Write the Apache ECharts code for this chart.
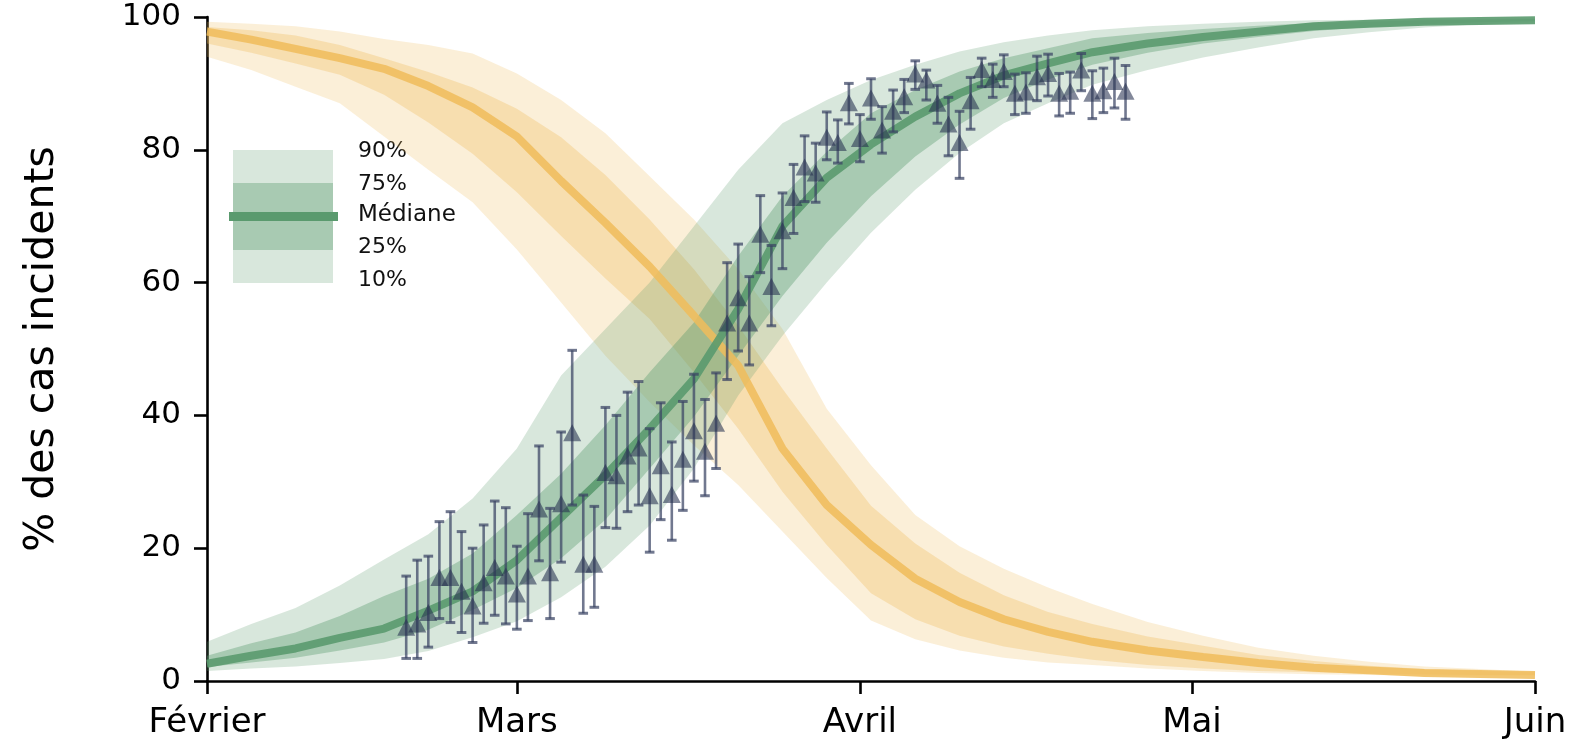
<!DOCTYPE html>
<html><head><meta charset="utf-8">
<script src="https://cdn.jsdelivr.net/npm/echarts@6/dist/echarts.min.js"></script>
<style>html,body{margin:0;padding:0;background:#fff}#c{width:1574px;height:740px}</style>
</head><body><div id="c"></div>
<script>
// ---- x axis: days since 1 February ----
const monthTicks = [0, 28, 59, 89, 120];
const monthNames = ['Février', 'Mars', 'Avril', 'Mai', 'Juin'];
const yTicks = [0, 20, 40, 60, 80, 100];

// ---- band sample days ----
const bandDays = [0,4,8,12,16,20,24,28,32,36,40,44,48,52,56,60,64,68,72,76,80,85,90,95,100,105,110,115,120];

// ---- green (increasing) quantiles ----
const gP10 = [1.5,1.9,2.2,2.7,3.3,4.5,6.6,9.0,12.6,17.2,23.4,32.0,43.0,52.0,60.0,67.5,74.0,79.5,84.0,87.0,89.8,92.0,93.9,95.4,96.8,97.7,98.4,98.9,99.2];
const gP25 = [2.1,2.8,3.5,4.6,5.8,7.7,10.7,14.0,18.5,24.3,32.0,39.8,49.0,58.0,66.0,73.0,79.0,83.8,87.8,90.6,92.8,94.6,96.0,97.0,97.9,98.5,98.9,99.2,99.4];
const gMed = [2.6,3.8,4.9,6.5,7.9,10.6,13.5,18.2,24.6,31.0,38.0,45.5,56.0,68.5,75.8,80.8,85.0,88.5,91.2,93.0,94.7,96.0,97.0,97.8,98.6,99.0,99.3,99.4,99.5];
const gP75 = [3.8,5.7,7.3,9.8,12.8,15.4,19.2,25.0,31.2,38.5,46.5,54.0,64.0,73.0,79.7,85.5,89.0,91.8,93.8,95.3,96.8,97.6,98.2,98.7,99.1,99.3,99.5,99.6,99.7];
const gP90 = [5.9,8.6,11.0,14.4,18.3,22.1,27.5,35.0,46.0,53.0,60.0,68.5,77.0,84.0,87.5,90.5,92.8,94.8,96.2,97.2,98.0,98.6,99.0,99.3,99.5,99.6,99.7,99.7,99.8];

// ---- orange (decreasing) quantiles ----
const oP10 = [94.0,92.0,89.5,87.0,82.0,77.0,72.1,65.0,57.0,49.0,42.0,35.5,29.5,22.5,15.5,9.1,6.3,4.6,3.5,2.8,2.4,1.9,1.5,1.2,1.0,0.9,0.8,0.8,0.8];
const oP25 = [96.0,94.6,93.0,91.3,88.3,84.1,79.4,73.6,67.0,60.6,54.5,46.5,38.0,28.5,20.5,13.2,9.3,6.8,5.2,4.1,3.2,2.4,1.9,1.5,1.3,1.1,1.0,0.9,0.9];
const oMed = [97.8,96.6,95.2,93.8,92.2,89.6,86.4,82.0,75.3,69.0,62.4,55.0,47.5,35.0,26.5,20.5,15.4,11.9,9.3,7.4,5.9,4.6,3.6,2.7,2.0,1.6,1.2,1.05,0.9];
const oP75 = [98.5,98.0,97.2,95.8,93.8,91.7,89.4,86.2,81.9,76.2,69.5,62.0,53.5,44.0,35.0,26.4,20.7,16.3,12.9,10.4,8.6,6.7,5.3,3.9,3.0,2.3,1.8,1.5,1.3];
const oP90 = [99.3,99.0,98.6,97.8,96.7,95.8,94.5,91.5,87.5,82.5,76.0,69.5,62.0,53.0,41.0,32.5,25.0,20.3,16.9,14.1,11.6,8.9,6.8,5.0,3.8,2.9,2.2,1.8,1.4];

// ---- observations (triangles with error bars) ----
const obsDays = [18,19,20,21,22,23,24,25,26,27,28,29,30,31,32,33,34,35,36,37,38,39,40,41,42,43,44,45,46,47,48,49,50,51,52,53,54,55,56,57,58,59,60,61,62,63,64,65,66,67,68,69,70,71,72,73,74,75,76,77,78,79,80,81,82,83];
const obsVal  = [8.1,8.6,10.3,15.6,15.6,13.5,11.3,14.8,17.1,15.8,13.1,15.8,25.9,16.3,26.7,37.4,17.6,17.6,31.4,30.9,33.9,35.1,27.9,32.4,28.1,33.4,37.7,34.6,38.8,53.9,57.7,53.9,67.3,59.4,67.8,72.8,77.4,76.5,81.9,81.1,87.1,81.7,87.8,83.0,85.8,88.0,91.4,90.5,87.0,83.9,81.1,87.4,92.1,90.6,91.8,88.5,88.7,91.0,91.5,88.5,88.8,92.0,88.5,88.9,90.3,88.8];
const obsHigh = [15.8,18.2,18.8,24.0,25.5,22.5,20.0,23.5,27.1,26.1,20.3,25.2,35.4,26.0,37.5,49.8,28.0,26.3,41.2,40.0,43.5,45.1,38.0,41.9,36.0,42.1,46.2,42.4,46.4,63.0,65.8,60.9,73.1,65.6,73.5,77.8,82.1,81.0,85.7,84.5,90.0,85.3,90.7,86.5,89.0,90.6,93.4,92.0,89.7,87.9,85.8,90.9,93.8,92.9,94.3,91.4,91.6,94.1,94.4,91.5,91.7,94.5,91.9,92.3,93.8,92.7];
const obsLow  = [3.4,3.4,5.1,9.4,8.8,7.3,5.8,8.7,9.9,8.6,7.8,9.1,18.1,9.4,17.9,26.5,10.2,11.1,23.1,23.0,25.5,26.5,19.4,24.3,21.2,25.7,30.1,27.9,32.0,45.4,49.7,47.6,61.5,53.5,62.1,67.4,72.2,72.1,78.5,78.0,83.9,78.2,84.6,79.5,82.7,85.6,89.1,87.5,84.0,79.1,75.7,83.1,89.5,87.9,89.5,85.3,85.5,87.4,88.1,85.1,85.5,88.9,84.7,85.6,86.3,84.6];

// ---- styles ----
const GREEN = '#5a9a6e';
const ORANGE = '#f0bc5a';
const FONT = 'DejaVu Sans';

function pairs(xs, ys) { return xs.map((x, i) => [x, ys[i]]); }

// band drawn as one polygon through the axis scales (api.coord)
function band(name, lo, hi, color) {
  const data = bandDays.map((d, i) => [d, lo[i], hi[i]]);
  return {
    type: 'custom', name: name, data: data, z: 1, silent: true,
    encode: { x: 0, y: [1, 2] },
    renderItem: function (params, api) {
      if (params.dataIndex !== 0) return null;
      const upper = data.map(p => api.coord([p[0], p[2]]));
      const lower = data.map(p => api.coord([p[0], p[1]])).reverse();
      return { type: 'polygon', shape: { points: upper.concat(lower) }, style: { fill: color } };
    }
  };
}

const errData = obsDays.map((d, i) => [d, obsLow[i], obsHigh[i]]);

const series = [
  band('o90', oP10, oP90, 'rgba(240,188,90,0.24)'),
  band('o75', oP25, oP75, 'rgba(240,188,90,0.32)'),
  band('g90', gP10, gP90, 'rgba(90,154,110,0.24)'),
  band('g75', gP25, gP75, 'rgba(90,154,110,0.38)'),
  { type: 'line', name: 'oMed', data: pairs(bandDays, oMed), symbol: 'none', z: 3,
    lineStyle: { color: ORANGE, width: 8, opacity: 0.85 } },
  { type: 'line', name: 'gMed', data: pairs(bandDays, gMed), symbol: 'none', z: 3,
    lineStyle: { color: GREEN, width: 8, opacity: 0.9 } },
  { type: 'custom', name: 'err', data: errData, z: 4, encode: { x: 0, y: [1, 2] },
    renderItem: function (params, api) {
      const x = api.value(0);
      const lo = api.coord([x, api.value(1)]);
      const hi = api.coord([x, api.value(2)]);
      const w = 4.8;
      const st = { stroke: 'rgba(58,68,100,0.72)', lineWidth: 2.6 };
      const cap = { stroke: 'rgba(58,68,100,0.72)', lineWidth: 3 };
      return { type: 'group', children: [
        { type: 'line', shape: { x1: lo[0], y1: lo[1], x2: hi[0], y2: hi[1] }, style: st },
        { type: 'line', shape: { x1: lo[0] - w, y1: lo[1], x2: lo[0] + w, y2: lo[1] }, style: cap },
        { type: 'line', shape: { x1: hi[0] - w, y1: hi[1], x2: hi[0] + w, y2: hi[1] }, style: cap }
      ] };
    } },
  { type: 'scatter', name: 'obs', data: pairs(obsDays, obsVal), symbol: 'triangle',
    symbolSize: [18, 17], z: 5, itemStyle: { color: 'rgba(38,48,80,0.72)' } }
];

const chart = echarts.init(document.getElementById('c'), null, { renderer: 'canvas' });
const legendX = 233, legendY = 150;
const legendFont = '22px "DejaVu Sans"';
chart.setOption({
  animation: false,
  backgroundColor: '#fff',
  grid: { left: 207, right: 39, top: 17, bottom: 58, containLabel: false },
  xAxis: {
    type: 'value', min: 0, max: 120,
    axisLine: { show: true, lineStyle: { color: '#000', width: 2.6 } },
    axisTick: { show: true, customValues: monthTicks, length: 13, lineStyle: { color: '#000', width: 2.6 } },
    axisLabel: { customValues: monthTicks, margin: 25, color: '#000', fontFamily: FONT, fontSize: 34,
      formatter: function (v) { const i = monthTicks.indexOf(v); return i >= 0 ? monthNames[i] : ''; } },
    splitLine: { show: false }
  },
  yAxis: {
    type: 'value', min: 0, max: 100, interval: 20,
    name: '% des cas incidents', nameLocation: 'middle', nameGap: 144,
    nameTextStyle: { color: '#000', fontFamily: FONT, fontSize: 41 },
    axisLine: { show: true, lineStyle: { color: '#000', width: 2.6 } },
    axisTick: { show: true, length: 13, lineStyle: { color: '#000', width: 2.6 } },
    axisLabel: { margin: 26, color: '#000', fontFamily: FONT, fontSize: 31,
      formatter: function (v) { return yTicks.indexOf(v) >= 0 ? String(v) : ''; } },
    splitLine: { show: false }
  },
  graphic: [
    { type: 'rect', shape: { x: legendX, y: legendY, width: 100, height: 133 }, style: { fill: 'rgba(90,154,110,0.24)' } },
    { type: 'rect', shape: { x: legendX, y: legendY + 33, width: 100, height: 67 }, style: { fill: 'rgba(90,154,110,0.38)' } },
    { type: 'line', shape: { x1: legendX - 4, y1: legendY + 66.5, x2: legendX + 105, y2: legendY + 66.5 }, style: { stroke: GREEN, lineWidth: 9 } },
    { type: 'text', x: 358, y: 151, style: { text: '90%', fill: '#111', font: legendFont, verticalAlign: 'middle' } },
    { type: 'text', x: 358, y: 184, style: { text: '75%', fill: '#111', font: legendFont, verticalAlign: 'middle' } },
    { type: 'text', x: 358, y: 215, style: { text: 'Médiane', fill: '#111', font: '23px "DejaVu Sans"', verticalAlign: 'middle' } },
    { type: 'text', x: 358, y: 247, style: { text: '25%', fill: '#111', font: legendFont, verticalAlign: 'middle' } },
    { type: 'text', x: 358, y: 280, style: { text: '10%', fill: '#111', font: legendFont, verticalAlign: 'middle' } }
  ],
  series: series
});
</script></body></html>
